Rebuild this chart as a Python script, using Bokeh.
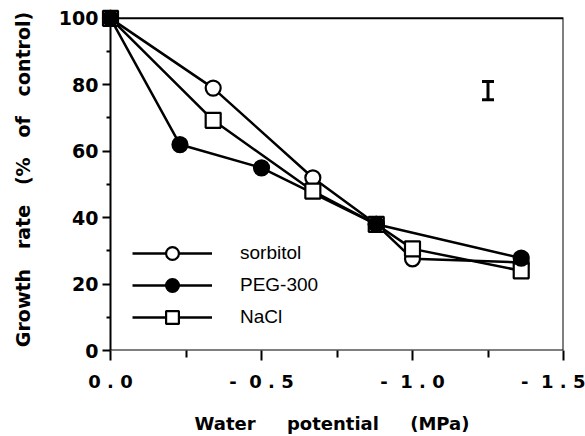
from bokeh.plotting import figure
from bokeh.models import (Range1d, FixedTicker, Legend, LegendItem, ColumnDataSource,
                          Whisker, TeeHead, BoxAnnotation)
from bokeh.embed import file_html
from bokeh.resources import INLINE

# data
sorb_x = [0.0, -0.34, -0.67, -0.88, -1.0, -1.36]
sorb_y = [100, 79, 52, 38, 27.6, 26.5]
peg_x = [0.0, -0.23, -0.5, -0.88, -1.36]
peg_y = [100, 62, 55, 38, 27.8]
nacl_x = [0.0, -0.34, -0.67, -0.88, -1.0, -1.36]
nacl_y = [100, 69.3, 48, 38, 30.6, 24]
err_x = [-1.25]
err_lo = [75.5]
err_hi = [81.0]

x_ticks = [0.0, -0.5, -1.0, -1.5]
x_minor = [-0.25, -0.75, -1.25]
x_labels = {0.0: "0 . 0", -0.5: "-\u00a0\u00a00 . 5", -1.0: "-\u00a0\u00a01 . 0", -1.5: "-\u00a0\u00a01 . 5"}
y_ticks = [0, 20, 40, 60, 80, 100]
y_minor = [10, 30, 50, 70, 90]

FONT = "Liberation Sans"
BFONT = "DejaVu Sans"
W, H = 585, 436
PADPX = 10
XPAD = 1.5 * PADPX / 453.0   # room so corner markers are not cut
YPAD = 100.0 * PADPX / 337.0

p = figure(width=W, height=H, output_backend="svg", toolbar_location=None,
           x_range=Range1d(x_ticks[0] + XPAD, x_ticks[-1]),
           y_range=Range1d(y_ticks[0], y_ticks[-1] + YPAD),
           min_border_left=100, min_border_right=22, min_border_top=8, min_border_bottom=81)
p.grid.visible = False
p.background_fill_color = "white"
p.border_fill_color = "white"
p.outline_line_color = None

p.add_layout(BoxAnnotation(left=x_ticks[0], right=x_ticks[-1], bottom=y_ticks[0], top=y_ticks[-1],
                           fill_alpha=0, line_color="black", line_alpha=1.0, line_width=2,
                           level="underlay"))

for ax in (p.xaxis[0], p.yaxis[0]):
    ax.axis_line_color = None
    ax.major_tick_line_width = 2
    ax.minor_tick_line_width = 2
    ax.major_label_text_font = BFONT
    ax.major_label_text_font_style = "bold"
    ax.major_label_text_color = "black"
    ax.axis_label_text_font = BFONT
    ax.axis_label_text_font_style = "bold"
    ax.axis_label_text_color = "black"

p.xaxis.ticker = FixedTicker(ticks=x_ticks, minor_ticks=x_minor)
p.xaxis.major_label_overrides = x_labels
p.xaxis.major_tick_in = 0
p.xaxis.minor_tick_in = 0
p.xaxis.major_tick_out = 10
p.xaxis.minor_tick_out = 7
p.xaxis.major_label_standoff = 10
p.xaxis.major_label_text_font_size = "18px"
xs = "\u00a0" * 5
p.xaxis.axis_label = f"Water{xs}potential{xs}(MPa)"
p.xaxis.axis_label_text_font_size = "18px"
p.xaxis.axis_label_standoff = 18

p.yaxis.ticker = FixedTicker(ticks=y_ticks, minor_ticks=y_minor)
p.yaxis.major_tick_out = -(PADPX - 8)
p.yaxis.major_tick_in = PADPX
p.yaxis.minor_tick_out = -(PADPX - 4)
p.yaxis.minor_tick_in = PADPX
p.yaxis.major_label_standoff = 4
p.yaxis.major_label_text_font_size = "19px"
sp = "\u00a0" * 3
p.yaxis.axis_label = f"Growth{sp}rate{sp}(%{sp}of{sp}control)"
p.yaxis.axis_label_text_font_size = "19px"
p.yaxis.axis_label_standoff = 22

LW = 2.5
r_sl = p.line(sorb_x, sorb_y, line_color="black", line_width=LW)
r_nl = p.line(nacl_x, nacl_y, line_color="black", line_width=LW)
r_pl = p.line(peg_x, peg_y, line_color="black", line_width=LW)
r_sm = p.scatter(sorb_x, sorb_y, marker="circle", size=15, fill_color="white",
                 line_color="black", line_width=2.2)
r_nm = p.scatter(nacl_x, nacl_y, marker="square", size=15, fill_color="white",
                 line_color="black", line_width=2.2)
r_pm = p.scatter(peg_x, peg_y, marker="circle", size=15, fill_color="black",
                 line_color="black", line_width=2.2)

src = ColumnDataSource(dict(x=err_x, lo=err_lo, hi=err_hi))
p.add_layout(Whisker(base="x", upper="hi", lower="lo", source=src, dimension="height",
                     line_width=3, line_color="black",
                     upper_head=TeeHead(size=12, line_width=3, line_color="black"),
                     lower_head=TeeHead(size=12, line_width=3, line_color="black")))

legend = Legend(items=[
    LegendItem(label="sorbitol", renderers=[r_sl, r_sm]),
    LegendItem(label="PEG-300", renderers=[r_pl, r_pm]),
    LegendItem(label="NaCl", renderers=[r_nl, r_nm]),
], location=(32, 17), padding=0, margin=0, spacing=0,
    glyph_width=80, glyph_height=32, label_standoff=28,
    label_text_font=FONT, label_text_font_size="19px", label_text_color="black",
    border_line_color=None, background_fill_alpha=0)
p.add_layout(legend, "center")

open("out.html", "w").write(file_html(p, INLINE))
